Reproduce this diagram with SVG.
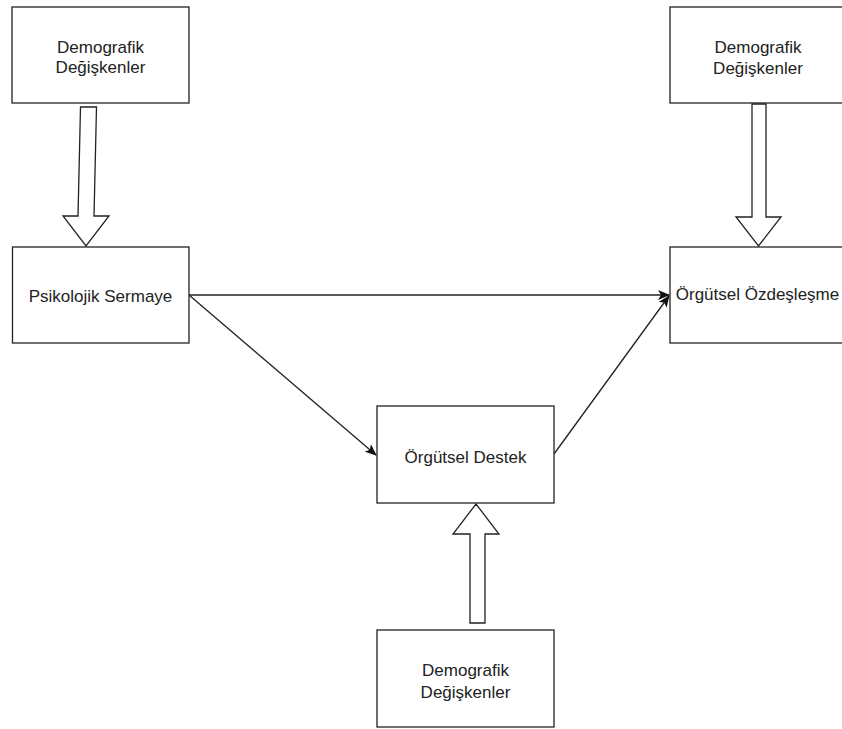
<svg xmlns="http://www.w3.org/2000/svg" width="842" height="729" viewBox="0 0 842 729">
<style>
.box{fill:#fff;stroke:#222;stroke-width:1.3}
.t{font-family:"Liberation Sans",Arial,sans-serif;font-size:17px;fill:#222;text-anchor:middle}
.hollow{fill:#fff;stroke:#222;stroke-width:1.3;stroke-linejoin:miter}
.edge{fill:none;stroke:#222;stroke-width:1.3}
</style>
<defs>
<marker id="arr" viewBox="0 0 12 10" refX="11" refY="5" markerWidth="12" markerHeight="10" markerUnits="userSpaceOnUse" orient="auto">
<path d="M0,0 L12,5 L0,10 L3,5 Z" fill="#111"/>
</marker>
</defs>
<rect width="842" height="729" fill="#fff"/>
<g id="connectors">
<polygon class="hollow" points="80.5,107 96.5,107 94,216 109,216 86,246 63,216 78,216"/>
<polygon class="hollow" points="752,104 766,104 766,217 781,217 758.5,246 736,217 752,217"/>
<polygon class="hollow" points="470,623 485,623 485,534 499,534 476,504 453,534 470,534"/>
<path class="edge" d="M189,295 L669,295" marker-end="url(#arr)"/>
<path class="edge" d="M189,295 L376,455" marker-end="url(#arr)"/>
<path class="edge" d="M554,454 L669,296" marker-end="url(#arr)"/>
</g>
<g id="demo1">
<rect class="box" x="12" y="7" width="177" height="96"/>
<text class="t" x="100.5" y="53">Demografik</text>
<text class="t" x="100.5" y="73">Değişkenler</text>
</g>
<g id="demo2">
<rect class="box" x="670" y="7" width="177" height="96"/>
<text class="t" x="758" y="53">Demografik</text>
<text class="t" x="758" y="74">Değişkenler</text>
</g>
<g id="psikolojik">
<rect class="box" x="12.5" y="247" width="176.5" height="96"/>
<text class="t" x="100.5" y="302">Psikolojik Sermaye</text>
</g>
<g id="ozdeslesme">
<rect class="box" x="670" y="247" width="177" height="96"/>
<text class="t" x="757.5" y="300">Örgütsel Özdeşleşme</text>
</g>
<g id="destek">
<rect class="box" x="377" y="406" width="177" height="97"/>
<text class="t" x="465.5" y="463">Örgütsel Destek</text>
</g>
<g id="demo3">
<rect class="box" x="377" y="630" width="177" height="97"/>
<text class="t" x="465.5" y="676">Demografik</text>
<text class="t" x="465.5" y="698">Değişkenler</text>
</g>
</svg>
